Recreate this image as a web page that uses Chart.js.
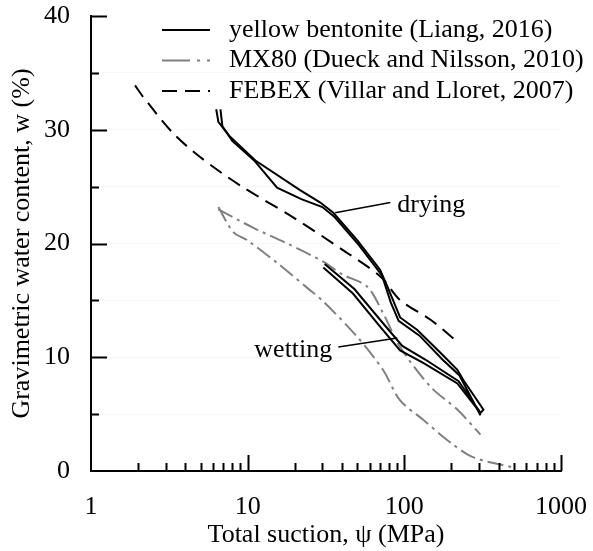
<!DOCTYPE html>
<html>
<head>
<meta charset="utf-8">
<script src="https://cdn.jsdelivr.net/npm/chart.js@4.4.1/dist/chart.umd.min.js"></script>
<style>
  html, body { margin: 0; padding: 0; background: #fff; }
  #wrap { width: 593px; height: 551px; }
</style>
</head>
<body>
<div id="wrap"><canvas id="suctionChart"></canvas></div>
<script>
// total suction (MPa) and water content (%)
// yellow bentonite, two samples: drying branch then wetting branch
const yellowA_suction = [6.3, 6.5, 7.7, 11.2, 21.6, 29.1, 35.2, 50, 70, 78, 94, 121, 170, 218, 238, 320,
                         306, 218, 132, 94, 70, 47, 30.4];
const yellowA_water   = [31.8, 30.7, 29.4, 27.3, 24.7, 23.6, 22.7, 20.3, 17.7, 16.2, 13.5, 12.4, 10.4, 8.9, 8.0, 5.4,
                         5.1, 7.7, 9.5, 10.6, 12.7, 15.6, 17.9];
const yellowB_suction = [6.7, 6.9, 8.0, 11.0, 15.4, 22, 30, 36, 51, 72, 82, 92, 125, 175, 225, 306,
                         300, 222, 136, 97, 72, 48, 31];
const yellowB_water   = [31.8, 30.3, 29.0, 27.3, 24.9, 23.9, 23.2, 22.3, 19.9, 17.2, 14.8, 13.2, 11.9, 9.8, 8.4, 4.9,
                         5.3, 7.9, 9.8, 11.0, 13.1, 16.0, 18.2];

// MX80 (Dueck and Nilsson, 2010)
const mx80Upper_suction = [6.5, 10.8, 17.9, 30.4, 40, 58, 73, 94, 147, 218, 306];
const mx80Upper_water   = [23.0, 21.4, 20.0, 18.4, 17.3, 16.2, 13.9, 10.9, 7.4, 5.4, 3.2];
const mx80Lower_suction = [6.5, 8.1, 9.9, 15.4, 24, 30.4, 50, 73, 94, 132, 197, 276, 480];
const mx80Lower_water   = [23.2, 21.0, 20.3, 18.3, 16.1, 14.9, 11.8, 8.9, 6.2, 4.5, 2.5, 1.2, 0.35];

// FEBEX (Villar and Lloret, 2007)
const febex_suction = [1.91, 2.15, 3.34, 4.97, 8.96, 19.5, 40.8, 70.3, 94.3, 147, 212];
const febex_water   = [33.9, 32.9, 29.7, 27.6, 25.1, 22.3, 19.4, 17.1, 15.0, 13.3, 11.5];

const xTickValues = [1, 10, 100, 1000];
const legendLabels = ['yellow bentonite (Liang, 2016)', 'MX80 (Dueck and Nilsson, 2010)', 'FEBEX (Villar and Lloret, 2007)'];

const serif = "'Liberation Serif', 'Times New Roman', serif";
const FONT = { family: serif, size: 26 };
const GREY = '#808080';

function pts(xs, ys) {
  return xs.map((v, i) => ({ x: v, y: ys[i] }));
}

function lineSet(xs, ys, color, dash, tension) {
  return {
    data: pts(xs, ys),
    borderColor: color,
    borderWidth: 2,
    borderDash: dash,
    pointRadius: 0,
    tension: tension,
    fill: false
  };
}

const datasets = [
  lineSet(yellowA_suction, yellowA_water, '#000', [], 0),
  lineSet(yellowB_suction, yellowB_water, '#000', [], 0),
  lineSet(mx80Upper_suction, mx80Upper_water, GREY, [16, 5, 3, 5], 0.3),
  lineSet(mx80Lower_suction, mx80Lower_water, GREY, [16, 5, 3, 5], 0.3),
  lineSet(febex_suction, febex_water, '#000', [14, 8], 0.3)
];
const legendRefs = [0, 2, 4];
const legendDash = [[], [28, 7, 3, 7], [15, 8]];

// keep the plot box where the figure has it
function noPad(s) {
  s.paddingTop = 0;
  s.paddingBottom = 0;
  s.paddingLeft = 0;
  s.paddingRight = 0;
}

const decor = {
  id: 'decor',
  afterDraw(chart) {
    const { ctx, chartArea: a, scales: { x, y } } = chart;
    ctx.save();
    ctx.strokeStyle = '#000';
    ctx.lineWidth = 2;
    ctx.setLineDash([]);

    // inward tick marks
    ctx.beginPath();
    for (let v = 5; v <= 40; v += 5) {
      const py = Math.round(y.getPixelForValue(v)) + 0.5;
      ctx.moveTo(a.left, py);
      ctx.lineTo(a.left + (v % 10 === 0 ? 16 : 8), py);
    }
    for (let d = 1; d < 1000; d *= 10) {
      for (let m = 1; m <= 10; m++) {
        const v = d * m;
        if (v === 1) continue;
        const px = Math.round(x.getPixelForValue(v)) + 0.5;
        ctx.moveTo(px, a.bottom);
        ctx.lineTo(px, a.bottom - (m === 10 ? 16 : 8));
      }
    }
    ctx.stroke();

    // labels for the drying / wetting branches
    ctx.lineWidth = 1.5;
    ctx.beginPath();
    ctx.moveTo(x.getPixelForValue(36.2), y.getPixelForValue(22.7));
    ctx.lineTo(x.getPixelForValue(81.4), y.getPixelForValue(23.6));
    ctx.moveTo(x.getPixelForValue(37.9), y.getPixelForValue(10.9));
    ctx.lineTo(x.getPixelForValue(90.2), y.getPixelForValue(11.7));
    ctx.stroke();

    ctx.fillStyle = '#000';
    ctx.font = `26px ${serif}`;
    ctx.textBaseline = 'middle';
    ctx.textAlign = 'left';
    ctx.fillText('drying', x.getPixelForValue(90.2), y.getPixelForValue(23.4));
    ctx.textAlign = 'right';
    ctx.fillText('wetting', x.getPixelForValue(34.7), y.getPixelForValue(10.6));

    // legend
    ctx.textAlign = 'left';
    legendRefs.forEach((di, i) => {
      const ds = chart.data.datasets[di];
      const ly = a.top + 14 + i * 30.5;
      ctx.strokeStyle = ds.borderColor;
      ctx.lineWidth = 2;
      ctx.setLineDash(legendDash[i]);
      ctx.beginPath();
      ctx.moveTo(a.left + 71, ly);
      ctx.lineTo(a.left + 119, ly);
      ctx.stroke();
      ctx.setLineDash([]);
      ctx.fillText(legendLabels[i], a.left + 138, ly);
    });
    ctx.restore();
  }
};

new Chart(document.getElementById('suctionChart'), {
  type: 'line',
  data: { datasets },
  options: {
    responsive: true,
    maintainAspectRatio: false,
    animation: false,
    devicePixelRatio: 1,
    layout: { padding: { top: 16, right: 32, bottom: 0, left: 0 } },
    plugins: { legend: { display: false }, tooltip: { enabled: false } },
    scales: {
      x: {
        type: 'logarithmic',
        min: 1,
        max: 1000,
        afterBuildTicks: s => { s.ticks = xTickValues.map(v => ({ value: v })); },
        afterFit: s => { s.height = 80; noPad(s); },
        ticks: { autoSkip: false, maxRotation: 0, padding: 21, color: '#000', font: FONT, callback: v => String(v) },
        grid: { display: false, drawTicks: false },
        border: { display: true, color: '#000', width: 2 },
        title: { display: true, text: 'Total suction, ψ (MPa)', color: '#000', font: FONT, padding: { top: 0, bottom: 0 } }
      },
      y: {
        min: 0,
        max: 40,
        afterFit: s => { s.width = 91; noPad(s); },
        ticks: { stepSize: 5, padding: 21, color: '#000', font: FONT, callback: v => (v % 10 === 0 ? v : '') },
        grid: {
          drawTicks: false,
          color: c => (c.tick && c.tick.value > 0 && c.tick.value < 40 ? 'rgba(0,0,0,0.03)' : 'rgba(0,0,0,0)')
        },
        border: { display: true, color: '#000', width: 2 },
        title: { display: true, text: 'Gravimetric water content, w (%)', color: '#000', font: FONT, padding: { top: 7 } }
      }
    }
  },
  plugins: [decor]
});
</script>
</body>
</html>
